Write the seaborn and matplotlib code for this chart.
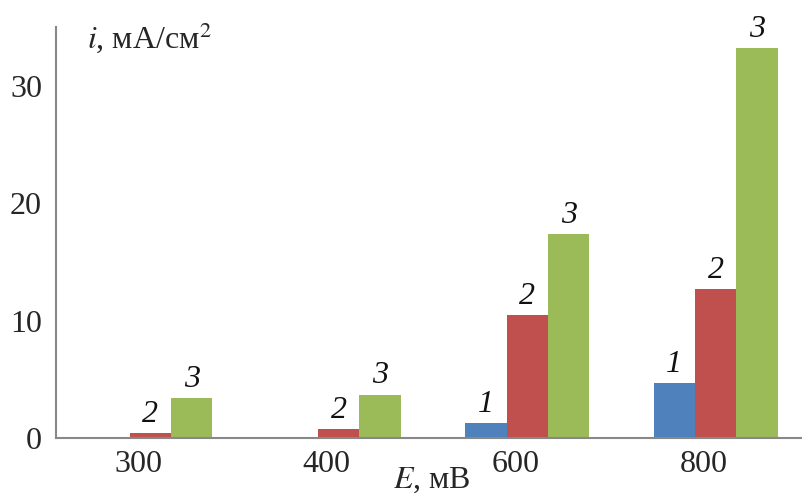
import pandas as pd
import seaborn as sns
import matplotlib.pyplot as plt
import matplotlib.transforms as mtransforms
from matplotlib.ticker import FixedLocator

potentials = ['300', '400', '600', '800']
curve_1 = [0.0, 0.0, 1.3, 4.7]
curve_2 = [0.42, 0.76, 10.5, 12.7]
curve_3 = [3.4, 3.7, 17.4, 33.2]
series_names = ['1', '2', '3']
colors = ['#4F81BD', '#C0504D', '#9BBB59']

df = pd.DataFrame({
    'E': potentials * 3,
    'i': curve_1 + curve_2 + curve_3,
    'curve': [s for s in series_names for _ in potentials],
})

sns.set_style('white')
plt.rcParams['font.family'] = ['Liberation Serif', 'DejaVu Serif']
plt.rcParams['mathtext.fontset'] = 'stix'

fig = plt.figure(figsize=(8.02, 4.97), dpi=100)
ax = fig.add_axes([56 / 802, 59 / 497, 754 / 802, 411 / 497])

sns.barplot(data=df, x='E', y='i', hue='curve', palette=colors, width=0.66,
            gap=0, saturation=1, legend=False, ax=ax, edgecolor='none')

# italic curve numbers above bars
for cont, name in zip(ax.containers, series_names):
    for bar in cont:
        h = bar.get_height()
        if h <= 0:
            continue
        ax.annotate(name, (bar.get_x() + bar.get_width() / 2, h), xytext=(0, 3),
                    textcoords='offset points', ha='center', va='bottom',
                    fontsize=23, style='italic', color='#111111')

ax.set_xlim(-0.5, 3.5)
ax.set_ylim(0, 35)
ax.set_yticks([0, 10, 20, 30])
ax.xaxis.set_minor_locator(FixedLocator([-0.5, 0.5, 1.5, 2.5, 3.5]))
ax.tick_params(axis='x', which='major', length=0, pad=9, labelsize=23)
ax.tick_params(axis='x', which='minor', length=6, width=1.3, color='#888888', direction='out')
ax.tick_params(axis='y', length=7, width=1.3, color='#888888', direction='out',
               labelsize=23, pad=3)

# x labels sit a little left of the category centres in the original
shift = mtransforms.ScaledTranslation(-12 / 100, 0, fig.dpi_scale_trans)
for lab in ax.get_xticklabels():
    lab.set_transform(lab.get_transform() + shift)

for side in ['top', 'right']:
    ax.spines[side].set_visible(False)
for side in ['left', 'bottom']:
    ax.spines[side].set_color('#888888')
    ax.spines[side].set_linewidth(1.5)

ax.set_xlabel('')
ax.set_ylabel('')
fig.text(87 / 802, 1 - 38 / 497, '$i$, мА/см$^2$', fontsize=23, va='center', ha='left')
fig.text(432 / 802, 2 / 497, '$E$, мВ', fontsize=23, va='bottom', ha='center')

fig.savefig('out.png', dpi=100)
